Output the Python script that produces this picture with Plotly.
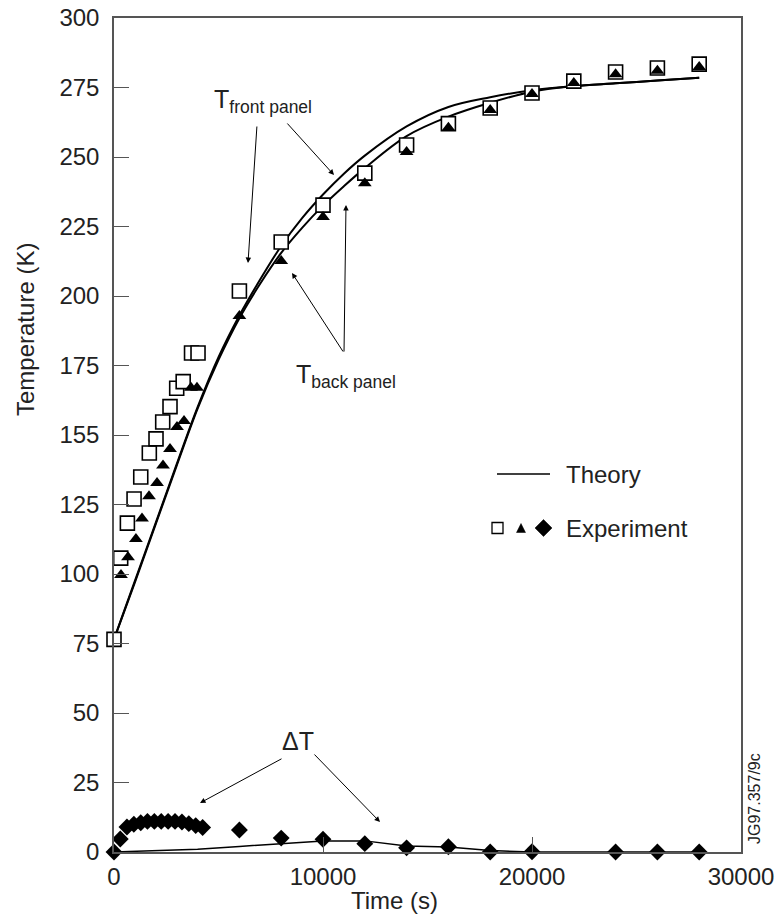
import plotly.graph_objects as go

# ---------------- data ----------------
# Experiment: front panel (open squares)
t_front_exp = [0, 320, 640, 960, 1280, 1690, 2010, 2330, 2680, 3000, 3310, 3710, 4020,
               6000, 8000, 10000, 12000, 14000, 16000, 18000, 20000, 22000, 24000, 26000, 28000]
T_front_exp = [76.5, 105.7, 118.3, 127, 134.9, 143.5, 148.6, 154.7, 160.2, 166.8, 169.2, 179.5, 179.5,
               201.8, 219.4, 232.7, 244.2, 254.3, 262, 267.6, 273, 277.3, 280.6, 282, 283.4]

# Experiment: back panel (filled triangles)
t_back_exp = [335, 670, 1050, 1340, 1675, 2060, 2345, 2680, 3015, 3350, 3685, 3970,
              6000, 8000, 10000, 12000, 14000, 16000, 18000, 20000, 22000, 24000, 26000, 28000]
T_back_exp = [99.6, 106, 112.6, 120, 128, 132.7, 139, 145, 152.9, 155, 167, 167,
              192.8, 212.6, 228.4, 240.6, 251.8, 260.5, 266.9, 272.7, 276.6, 279.8, 281, 282.4]

# Experiment: Delta T (filled diamonds)
t_dT_exp = [0, 300, 620, 950, 1280, 1600, 1930, 2260, 2590, 2920, 3250, 3580, 3910, 4240,
            6000, 8000, 10000, 12000, 14000, 16000, 18000, 20000, 22000, 24000, 26000, 28000]
dT_exp = [0, 4.7, 9, 10, 10.5, 11, 11, 11, 11, 11, 10.8, 10.2, 9.5, 8.8,
          7.9, 5.0, 4.6, 3.0, 1.5, 1.9, 0, 0.1, -0.3, 0, 0, 0]

# Theory curves
t_theory = [0, 1000, 2000, 3000, 4000, 5000, 6000, 7000, 8000, 9000, 10000, 11000, 12000,
            14000, 16000, 18000, 20000, 22000, 24000, 26000, 28000]
T_front_th = [76.5, 97.5, 118.5, 139.5, 160, 178, 193, 206, 218, 228, 236.5, 244, 250.5,
              261, 268, 271.5, 274, 275.5, 276.5, 277.5, 278.5]
T_back_th = [76.5, 97, 118, 139, 159.5, 177, 192, 204.5, 215.5, 224.5, 232.5, 239.5, 246,
             257.5, 264.5, 269.5, 273.5, 275.5, 276.5, 277.5, 278.5]

t_dT_th = [0, 2000, 4000, 6000, 7000, 8000, 10000, 12000, 14000, 16000, 18000, 20000, 24000, 28000]
dT_th = [0, 0.5, 1.0, 2.0, 2.5, 3.2, 4.0, 4.0, 2.2, 1.8, 0.5, 0, 0, 0]

y_tickvals = [0, 25, 50, 75, 100, 125, 150, 175, 200, 225, 250, 275, 300]
y_ticktext = ["0", "25", "50", "75", "100", "125", "155", "175", "200", "225", "250", "275", "300"]
x_tickvals = [0, 10000, 20000, 30000]
x_ticktext = ["0", "10000", "20000", "30000"]

# ---------------- figure ----------------
FONT = "Liberation Sans, Arial, sans-serif"
TXT = "#222222"
AX = "#555555"

fig = go.Figure()

fig.add_trace(go.Scatter(x=t_theory, y=T_front_th, mode="lines", line_shape="spline",
                         line=dict(color="black", width=2), showlegend=False))
fig.add_trace(go.Scatter(x=t_theory, y=T_back_th, mode="lines", line_shape="spline",
                         line=dict(color="black", width=2), showlegend=False))
fig.add_trace(go.Scatter(x=t_dT_th, y=dT_th, mode="lines",
                         line=dict(color="black", width=1.5), showlegend=False))

fig.add_trace(go.Scatter(x=t_front_exp, y=T_front_exp, mode="markers", cliponaxis=False,
                         marker=dict(symbol="square", size=14, color="white",
                                     line=dict(color="black", width=1.6)),
                         showlegend=False))
fig.add_trace(go.Scatter(x=t_back_exp, y=T_back_exp, mode="markers", cliponaxis=False,
                         marker=dict(symbol="triangle-up", size=12, color="black",
                                     line=dict(width=0)),
                         showlegend=False))
fig.add_trace(go.Scatter(x=t_dT_exp, y=dT_exp, mode="markers", cliponaxis=False,
                         marker=dict(symbol="diamond", size=13, color="black",
                                     line=dict(width=0)),
                         showlegend=False))

def px2x(px):
    return (px - 114) * 30000.0 / 627.0

def px2y(py):
    return (852 - py) * 300.0 / 834.0

annotations = []

def arrow(tail, tip):
    annotations.append(dict(x=px2x(tip[0]), y=px2y(tip[1]), ax=px2x(tail[0]), ay=px2y(tail[1]),
                            xref="x", yref="y", axref="x", ayref="y", text="",
                            showarrow=True, arrowhead=2, arrowsize=1.1, arrowwidth=1,
                            arrowcolor="black", standoff=0, startstandoff=0))

arrow((257, 125), (248, 263))
arrow((286, 122), (334, 175))
arrow((344, 353), (292, 273))
arrow((344, 353), (346, 205))
arrow((283, 758), (200, 803))
arrow((313, 753), (380, 822))

def label(text, px, py, size=25, xanchor="left"):
    annotations.append(dict(x=px2x(px), y=px2y(py), xref="x", yref="y", text=text,
                            showarrow=False, xanchor=xanchor, yanchor="middle",
                            font=dict(family=FONT, size=size, color=TXT)))

label("T<sub>front panel</sub>", 212, 101)
label("T<sub>back panel</sub>", 294, 376)
label("ΔT", 298, 741, xanchor="center")

# legend made of text + shapes
label("Theory", 564, 474, size=24)
label("Experiment", 564, 528, size=24)

# axis titles (placed off-centre, as in the reference)
annotations.append(dict(x=(25 - 114) / 627.0, y=(852 - 330) / 834.0, xref="paper", yref="paper",
                        text="Temperature (K)", showarrow=False, textangle=-90,
                        xanchor="center", yanchor="middle",
                        font=dict(family=FONT, size=24, color=TXT)))
annotations.append(dict(x=(394 - 114) / 627.0, y=(852 - 900) / 834.0, xref="paper", yref="paper",
                        text="Time (s)", showarrow=False,
                        xanchor="center", yanchor="middle",
                        font=dict(family=FONT, size=24, color=TXT)))

annotations.append(dict(x=1.0, y=0.0, xref="paper", yref="paper", text="JG97.357/9c",
                        showarrow=False, textangle=-90, xanchor="left", yanchor="bottom",
                        xshift=3, yshift=6,
                        font=dict(family=FONT, size=16, color=TXT)))

shapes = [
    dict(type="line", xref="x", yref="y", x0=px2x(497), x1=px2x(550), y0=px2y(474), y1=px2y(474),
         line=dict(color="black", width=1.5)),
    dict(type="rect", xref="x", yref="y", x0=px2x(492), x1=px2x(503), y0=px2y(522.5), y1=px2y(533.5),
         line=dict(color="black", width=1.3), fillcolor="white"),
    dict(type="path", xref="x", yref="y",
         path="M {} {} L {} {} L {} {} Z".format(px2x(516.5), px2y(532.5), px2x(525.5), px2y(532.5),
                                                 px2x(521), px2y(523.5)),
         line=dict(color="black", width=0.5), fillcolor="black"),
    dict(type="path", xref="x", yref="y",
         path="M {} {} L {} {} L {} {} L {} {} Z".format(px2x(535), px2y(528), px2x(543.5), px2y(519.5),
                                                        px2x(552), px2y(528), px2x(543.5), px2y(536.5)),
         line=dict(color="black", width=0.5), fillcolor="black"),
]

fig.update_layout(
    width=779, height=923,
    margin=dict(l=114, r=38, t=18, b=71, autoexpand=False),
    paper_bgcolor="white", plot_bgcolor="white",
    font=dict(family=FONT, size=24, color=TXT),
    annotations=annotations, shapes=shapes,
    showlegend=False,
)

fig.update_xaxes(range=[0, 30000], tickvals=x_tickvals, ticktext=x_ticktext,
                 ticks="inside", ticklen=15, tickwidth=1.2, tickcolor=AX,
                 showline=True, linecolor=AX, linewidth=1.5, mirror=True,
                 showgrid=False, zeroline=False, ticklabelstandoff=2,
                 tickfont=dict(family=FONT, size=24, color=TXT))
fig.update_yaxes(range=[0, 300], tickvals=y_tickvals, ticktext=y_ticktext,
                 ticks="inside", ticklen=15, tickwidth=1.2, tickcolor=AX,
                 showline=True, linecolor=AX, linewidth=1.5, mirror=True,
                 showgrid=False, zeroline=False, ticklabelstandoff=8,
                 tickfont=dict(family=FONT, size=24, color=TXT))

fig.write_html("out.html")
